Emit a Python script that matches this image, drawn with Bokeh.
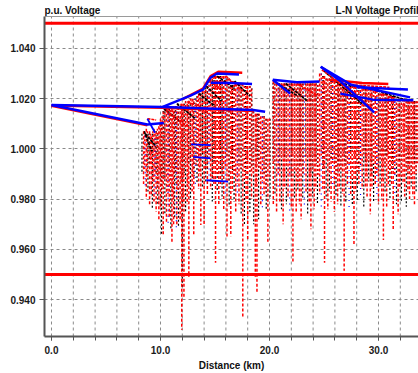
from bokeh.plotting import figure
from bokeh.models import (Range1d, SingleIntervalTicker, LinearAxis, Grid,
                          NumeralTickFormatter)
from bokeh.core.properties import value
from bokeh.embed import file_html
from bokeh.resources import INLINE

# ---------------- data (distance in km, voltage in p.u.) ----------------
limit_high = 1.05
limit_low = 0.95
grid_x_km = [0, 2, 4, 6, 8, 10, 12, 14, 16, 18, 20, 22, 24, 26, 28, 30, 32]

# primary (solid) circuits
blue_upper_x = [0.0, 10.2, 18.5, 19.6]
blue_upper_v = [1.0175, 1.0167, 1.0155, 1.0148]
red_upper_x = [0.0, 10.2, 18.5]
red_upper_v = [1.0173, 1.0164, 1.0152]
blue_lower_x = [0.0, 8.8, 10.3]
blue_lower_v = [1.0175, 1.0097, 1.0103]
red_lower_x = [0.0, 8.8]
red_lower_v = [1.0172, 1.0094]
blue_rise_x = [10.2, 11.5, 12.75, 13.9, 14.6, 15.2, 17.2]
blue_rise_v = [1.0167, 1.0190, 1.0212, 1.0236, 1.0284, 1.0300, 1.0296]
red_rise_x = [12.0, 13.9, 14.6, 15.3, 17.5]
red_rise_v = [1.0197, 1.0240, 1.0290, 1.0307, 1.0303]
blue_second_x = [14.6, 16.5, 18.4]
blue_second_v = [1.0263, 1.0262, 1.0258]
blue_mid_diag_x = [20.3, 21.9]
blue_mid_diag_v = [1.0275, 1.0220]
blue_mid_flat_x = [20.3, 22.5, 24.6]
blue_mid_flat_v = [1.0275, 1.0265, 1.0268]
blue_peak_a_x = [24.7, 26.5, 29.6]
blue_peak_a_v = [1.0327, 1.0270, 1.0145]
blue_peak_b_x = [24.7, 27.5, 32.9]
blue_peak_b_v = [1.0327, 1.0255, 1.0205]
red_top_right_x = [25.5, 28.5, 30.9]
red_top_right_v = [1.0275, 1.0262, 1.0258]
blue_right_x = [28.0, 30.5, 32.7]
blue_right_v = [1.0245, 1.0240, 1.0236]
blue_low_right_x = [26.5, 29.5, 33.2]
blue_low_right_v = [1.0220, 1.0196, 1.0194]

# secondary laterals (dotted), phase red
red_x = [8.45, 8.7, 9.0, 9.15, 9.4, 9.6, 9.85, 10.0, 10.25, 10.55,
         10.8, 11.05, 11.2, 11.5, 11.8, 11.95, 12.15, 12.45, 12.6, 12.9,
         13.05, 13.5, 13.7, 14.0, 14.3, 14.6, 14.9, 15.05, 15.35, 15.5,
         15.8, 16.1, 16.45, 16.6, 16.9, 17.2, 17.55, 17.85, 18.0, 18.35,
         18.7, 18.85, 19.2, 19.5, 19.85, 20.35, 20.65, 20.95, 21.25, 21.4,
         21.7, 22.0, 22.15, 22.45, 22.75, 22.9, 23.35, 23.65, 23.8, 24.1,
         24.25, 24.6, 24.9, 25.05, 25.35, 25.65, 25.95, 26.25, 26.4, 26.7,
         26.85, 27.15, 27.45, 27.75, 27.9, 28.2, 28.5, 28.8, 28.95, 29.25,
         29.4, 29.7, 30.0, 30.3, 30.45, 30.75, 30.9, 31.2, 31.35, 31.8,
         31.95, 32.25, 32.4, 32.7, 32.85, 33.15, 33.3]
red_top = [1.007, 1.008, 1.007, 1.005, 1.008, 1.007, 1.009, 1.012, 1.015, 1.016,
           1.016, 1.016, 1.017, 1.017, 1.017, 1.018, 1.018, 1.018, 1.019, 1.020,
           1.019, 1.022, 1.022, 1.025, 1.027, 1.028, 1.029, 1.029, 1.029, 1.029,
           1.029, 1.028, 1.027, 1.027, 1.026, 1.026, 1.026, 1.025, 1.025, 1.024,
           1.014, 1.014, 1.013, 1.013, 1.012, 1.027, 1.026, 1.026, 1.026, 1.026,
           1.026, 1.026, 1.026, 1.026, 1.026, 1.026, 1.026, 1.026, 1.026, 1.026,
           1.026, 1.030, 1.029, 1.029, 1.028, 1.027, 1.027, 1.026, 1.026, 1.026,
           1.026, 1.025, 1.025, 1.025, 1.025, 1.025, 1.024, 1.024, 1.024, 1.024,
           1.024, 1.023, 1.022, 1.022, 1.022, 1.022, 1.021, 1.021, 1.021, 1.020,
           1.020, 1.020, 1.020, 1.019, 1.019, 1.019, 1.019]
red_bot = [0.986, 0.980, 0.978, 0.981, 0.979, 0.975, 0.972, 0.976, 0.966, 0.971,
           0.973, 0.9625, 0.970, 0.970, 0.972, 0.928, 0.941, 0.978, 0.949, 0.983,
           0.966, 0.984, 0.9697, 0.970, 0.982, 0.984, 0.986, 0.9547, 0.978, 0.985,
           0.976, 0.965, 0.9652, 0.983, 0.975, 0.978, 0.933, 0.979, 0.9637, 0.980,
           0.9489, 0.9425, 0.978, 0.981, 0.963, 0.978, 0.975, 0.979, 0.970, 0.984,
           0.981, 0.977, 0.9546, 0.975, 0.978, 0.972, 0.983, 0.979, 0.968, 0.976,
           0.984, 0.982, 0.984, 0.9547, 0.976, 0.979, 0.975, 0.978, 0.984, 0.982,
           0.9515, 0.985, 0.982, 0.9617, 0.983, 0.986, 0.984, 0.985, 0.981, 0.974,
           0.984, 0.986, 0.978, 0.980, 0.9637, 0.977, 0.985, 0.986, 0.968, 0.974,
           0.984, 0.986, 0.981, 0.983, 0.980, 0.981, 0.978]

# short red service drops (upper dense band)
red_short_x = [8.55, 8.8, 9.08, 9.3, 9.5, 9.72, 9.95, 10.15, 10.4, 10.68,
               10.92, 11.12, 11.35, 11.6, 11.88, 12.07, 12.3, 12.52, 12.75, 12.98,
               13.25, 13.42, 13.6, 13.85, 14.15, 14.45, 14.75, 15.0, 15.2, 15.43,
               15.65, 15.95, 16.25, 16.53, 16.75, 17.05, 17.35, 17.7, 17.95, 18.2,
               18.5, 18.78, 19.05, 19.35, 19.65, 20.0, 20.45, 20.8, 21.1, 21.33,
               21.55, 21.85, 22.08, 22.3, 22.6, 22.83, 23.1, 23.5, 23.72, 23.95,
               24.18, 24.45, 24.75, 24.97, 25.2, 25.5, 25.8, 26.1, 26.32, 26.55,
               26.78, 27.0, 27.3, 27.6, 27.82, 28.05, 28.35, 28.65, 28.88, 29.1,
               29.33, 29.55, 29.85, 30.15, 30.38, 30.6, 30.83, 31.05, 31.28, 31.5,
               31.65, 32.1, 32.33, 32.55, 32.78, 33.0, 33.22, 33.45, 33.6]
red_short_top = [1.007, 1.007, 1.006, 1.007, 1.006, 1.008, 1.010, 1.013, 1.016, 1.016,
                 1.017, 1.017, 1.017, 1.018, 1.018, 1.018, 1.019, 1.019, 1.020, 1.020,
                 1.020, 1.021, 1.022, 1.023, 1.025, 1.027, 1.028, 1.029, 1.029, 1.029,
                 1.029, 1.029, 1.028, 1.027, 1.027, 1.026, 1.026, 1.025, 1.025, 1.025,
                 1.015, 1.014, 1.014, 1.013, 1.012, 1.012, 1.026, 1.026, 1.026, 1.026,
                 1.026, 1.026, 1.026, 1.026, 1.026, 1.026, 1.026, 1.026, 1.026, 1.026,
                 1.026, 1.027, 1.030, 1.029, 1.028, 1.028, 1.027, 1.027, 1.026, 1.026,
                 1.026, 1.026, 1.025, 1.025, 1.025, 1.025, 1.025, 1.024, 1.024, 1.024,
                 1.024, 1.023, 1.023, 1.022, 1.022, 1.022, 1.022, 1.021, 1.021, 1.021,
                 1.020, 1.020, 1.020, 1.019, 1.019, 1.019, 1.019, 1.019, 1.019]
red_short_bot = [0.992, 0.989, 0.994, 0.987, 0.991, 0.985, 0.990, 0.984, 0.988, 0.982,
                 0.986, 0.980, 0.990, 0.983, 0.987, 0.979, 0.992, 0.985, 0.995, 0.989,
                 0.993, 0.996, 0.990, 0.998, 0.992, 0.995, 0.988, 0.994, 0.990, 0.996,
                 0.989, 0.993, 0.987, 0.995, 0.990, 0.986, 0.992, 0.988, 0.994, 0.990,
                 0.990, 0.985, 0.992, 0.987, 0.983, 0.989, 0.994, 0.990, 0.996, 0.988,
                 0.993, 0.989, 0.997, 0.991, 0.986, 0.994, 0.990, 0.996, 0.988, 0.992,
                 0.995, 0.989, 0.997, 0.992, 0.996, 0.990, 0.994, 0.988, 0.995, 0.991,
                 0.997, 0.990, 0.994, 0.988, 0.996, 0.991, 0.993, 0.998, 0.990, 0.995,
                 0.989, 0.994, 0.990, 0.996, 0.988, 0.993, 0.997, 0.991, 0.995, 0.990,
                 0.994, 0.989, 0.996, 0.991, 0.993, 0.988, 0.995, 0.990, 0.994]

# secondary laterals, phase black
black_x = [8.3, 8.85, 9.25, 9.75, 10.1, 10.4, 10.95, 11.3, 11.65, 12.0,
           12.3, 12.75, 13.35, 13.85, 14.15, 14.75, 15.2, 15.65, 16.3, 16.75,
           17.4, 17.7, 18.2, 18.55, 19.0, 19.7, 20.05, 20.5, 21.1, 21.55,
           22.3, 22.6, 23.05, 23.5, 23.95, 24.4, 25.2, 25.5, 26.1, 26.55,
           27.0, 27.6, 28.05, 28.65, 29.1, 29.55, 30.15, 30.6, 31.05, 31.65,
           32.1, 32.55, 33.0, 33.45]
black_top = [1.006, 1.006, 1.006, 1.006, 1.010, 1.015, 1.017, 1.015, 1.018, 1.016,
             1.019, 1.018, 1.021, 1.024, 1.026, 1.029, 1.029, 1.028, 1.028, 1.027,
             1.026, 1.025, 1.025, 1.015, 1.014, 1.012, 1.012, 1.026, 1.026, 1.026,
             1.026, 1.026, 1.026, 1.026, 1.026, 1.027, 1.028, 1.028, 1.027, 1.026,
             1.026, 1.025, 1.025, 1.024, 1.024, 1.023, 1.022, 1.022, 1.021, 1.020,
             1.020, 1.019, 1.019, 1.019]
black_bot = [0.990, 0.983, 0.976, 0.978, 0.9655, 0.974, 0.968, 0.972, 0.969, 0.945,
             0.975, 0.980, 0.986, 0.985, 0.987, 0.979, 0.983, 0.980, 0.977, 0.979,
             0.974, 0.970, 0.975, 0.970, 0.972, 0.976, 0.980, 0.982, 0.976, 0.978,
             0.980, 0.983, 0.980, 0.974, 0.981, 0.978, 0.980, 0.983, 0.981, 0.977,
             0.979, 0.978, 0.979, 0.977, 0.987, 0.979, 0.985, 0.983, 0.980, 0.978,
             0.979, 0.977, 0.985, 0.983]
black_short_x = [8.95, 9.6, 10.25, 10.8, 11.4, 12.2, 12.6, 13.1, 13.7, 14.3,
                 14.9, 15.5, 16.1, 16.6, 17.2, 17.8, 18.4, 18.9, 19.5, 20.3,
                 20.9, 21.4, 22.0, 22.8, 23.3, 23.8, 24.3, 24.9, 25.65, 26.3,
                 26.9, 27.45, 28.2, 28.8, 29.4, 30.0, 30.7, 31.3, 31.9, 32.7, 33.3]
black_short_top = [1.006, 1.007, 1.015, 1.016, 1.017, 1.018, 1.019, 1.020, 1.022, 1.026,
                   1.029, 1.029, 1.028, 1.027, 1.026, 1.025, 1.024, 1.014, 1.013, 1.026,
                   1.026, 1.026, 1.026, 1.026, 1.026, 1.026, 1.026, 1.029, 1.027, 1.026,
                   1.026, 1.025, 1.025, 1.024, 1.024, 1.022, 1.022, 1.021, 1.020, 1.019, 1.019]
black_short_bot = [0.994, 0.990, 0.988, 0.992, 0.986, 0.990, 0.994, 0.988, 0.996, 0.992,
                   0.995, 0.990, 0.997, 0.991, 0.994, 0.989, 0.993, 0.995, 0.990, 0.994,
                   0.991, 0.996, 0.989, 0.993, 0.997, 0.990, 0.994, 0.992, 0.996, 0.990,
                   0.994, 0.998, 0.991, 0.995, 0.990, 0.993, 0.997, 0.992, 0.995, 0.990, 0.994]

# secondary laterals, phase blue
blue_x = [8.6, 9.5, 10.7, 11.45, 13.2, 14.45, 15.95, 17.05, 19.35, 20.8,
          21.85, 23.2, 24.75, 25.8, 27.3, 28.35, 29.85, 31.5]
blue_top = [1.005, 1.004, 1.014, 1.017, 1.020, 1.028, 1.028, 1.026, 1.013, 1.026,
            1.026, 1.026, 1.030, 1.027, 1.025, 1.025, 1.023, 1.021]
blue_bot = [0.984, 0.982, 0.969, 0.967, 0.985, 0.988, 0.982, 0.981, 0.975, 0.985,
            0.974, 0.976, 0.977, 0.985, 0.976, 0.980, 0.982, 0.982]

# sloping branch segments (start km, start pu, end km, end pu)
fan_black_x0 = [8.5, 8.6, 10.3, 11.5, 13.5, 14.2, 15.2, 16.8, 20.4, 21.5, 25.0, 26.5, 28.5]
fan_black_v0 = [1.007, 1.006, 1.016, 1.018, 1.022, 1.025, 1.029, 1.027, 1.027, 1.026, 1.031, 1.026, 1.025]
fan_black_x1 = [9.2, 9.6, 11.8, 13.2, 15.0, 15.6, 16.8, 18.2, 22.6, 23.5, 28.5, 30.0, 32.5]
fan_black_v1 = [0.999, 1.001, 1.011, 1.012, 1.017, 1.019, 1.024, 1.021, 1.021, 1.019, 1.018, 1.0235, 1.0195]
fan_red_x0 = [8.8, 10.5, 12.5, 14.5, 16.0, 22.5, 24.8, 27.5]
fan_red_v0 = [1.012, 1.015, 1.019, 1.027, 1.029, 1.026, 1.0315, 1.0255]
fan_red_x1 = [9.6, 12.5, 14.5, 16.0, 17.5, 24.5, 29.5, 31.0]
fan_red_v1 = [1.0115, 1.009, 1.014, 1.022, 1.023, 1.021, 1.016, 1.0245]
fan_blue_x0 = [8.8, 12.8, 13.0, 14.2]
fan_blue_v0 = [1.012, 1.0018, 0.9968, 0.9875]
fan_blue_x1 = [9.5, 14.6, 14.6, 16.2]
fan_blue_v1 = [1.0064, 1.0015, 0.9962, 0.987]

for a, b, c in [(red_x, red_top, red_bot), (red_short_x, red_short_top, red_short_bot),
                (black_x, black_top, black_bot),
                (black_short_x, black_short_top, black_short_bot),
                (blue_x, blue_top, blue_bot)]:
    assert len(a) == len(b) == len(c), (len(a), len(b), len(c))

RED = "#ff0000"
BLUE = "#0000ff"
BLACK = "#000000"
FONT = "Liberation Sans"

X0, X1 = -0.642, 33.67          # plotted distance window
V_BOT, V_TOP = 0.9253, 1.0527   # plot box (voltage)
V_CANVAS_TOP = 1.05907          # frame extends up to the title strip

p = figure(width=418, height=373, output_backend="svg", toolbar_location=None,
           x_range=Range1d(X0, X1), y_range=Range1d(V_BOT, V_CANVAS_TOP),
           x_axis_type=None, y_axis_type=None,
           min_border_left=44, min_border_right=0, min_border_top=0, min_border_bottom=37)
p.outline_line_color = None
p.background_fill_color = "white"
p.border_fill_color = "white"

# grid: horizontal via Grid, vertical drawn inside the plot box only
yg = Grid(dimension=1, ticker=SingleIntervalTicker(interval=0.02))
yg.grid_line_color = "#8a8a8a"
yg.grid_line_dash = "3 3"
yg.grid_line_width = 1
p.add_layout(yg)
p.segment(x0=grid_x_km, y0=[V_BOT] * len(grid_x_km), x1=grid_x_km, y1=[V_TOP] * len(grid_x_km),
          line_color="#8a8a8a", line_dash="3 3", line_width=1)

# axes
xax = LinearAxis(ticker=SingleIntervalTicker(interval=10, num_minor_ticks=5),
                 formatter=NumeralTickFormatter(format="0.0"))
yax = LinearAxis(ticker=SingleIntervalTicker(interval=0.02, num_minor_ticks=0),
                 formatter=NumeralTickFormatter(format="0.000"), bounds=(V_BOT, V_TOP))
for ax in (xax, yax):
    ax.axis_line_color = "#555555"
    ax.axis_line_width = 2
    ax.major_tick_line_color = "#555555"
    ax.minor_tick_line_color = "#555555"
    ax.major_tick_in = 0
    ax.minor_tick_in = 0
    ax.major_label_text_font = FONT
    ax.major_label_text_font_style = "bold"
    ax.major_label_text_font_size = "10px"
    ax.major_label_text_color = "#1a1a1a"
xax.major_tick_out = 4
xax.minor_tick_out = 4
xax.major_label_standoff = 5
xax.axis_label = "Distance (km)"
xax.axis_label_text_font = FONT
xax.axis_label_text_font_style = "bold"
xax.axis_label_text_font_size = "10px"
xax.axis_label_text_color = "#111111"
xax.axis_label_standoff = 3
yax.major_tick_out = 5
yax.minor_tick_out = 0
yax.major_label_standoff = 4
p.add_layout(xax, "below")
p.add_layout(yax, "left")

# top border of the plot box
p.line([X0, X1], [V_TOP, V_TOP], line_color="#9a9a9a", line_width=1)

# secondary laterals
p.segment(x0=black_x, y0=black_top, x1=black_x, y1=black_bot,
          line_color=BLACK, line_width=1.2, line_dash="2 2")
p.segment(x0=red_x, y0=red_top, x1=red_x, y1=red_bot,
          line_color=RED, line_width=1.5, line_dash="3 2")
p.segment(x0=red_short_x, y0=red_short_top, x1=red_short_x, y1=red_short_bot,
          line_color=RED, line_width=1.5, line_dash="2 2")
p.segment(x0=black_short_x, y0=black_short_top, x1=black_short_x, y1=black_short_bot,
          line_color=BLACK, line_width=1.2, line_dash="1 3")
p.segment(x0=blue_x, y0=blue_top, x1=blue_x, y1=blue_bot,
          line_color=BLUE, line_width=1.2, line_dash="1 5")

# sloping branches
p.segment(x0=fan_black_x0, y0=fan_black_v0, x1=fan_black_x1, y1=fan_black_v1,
          line_color=BLACK, line_width=1.6, line_dash="3 1")
p.segment(x0=fan_red_x0, y0=fan_red_v0, x1=fan_red_x1, y1=fan_red_v1,
          line_color=RED, line_width=1.6, line_dash="3 1")
p.segment(x0=fan_blue_x0, y0=fan_blue_v0, x1=fan_blue_x1, y1=fan_blue_v1,
          line_color=BLUE, line_width=1.8)

# primary circuits
for xs, vs in [(red_upper_x, red_upper_v), (red_lower_x, red_lower_v),
               (red_rise_x, red_rise_v), (red_top_right_x, red_top_right_v)]:
    p.line(xs, vs, line_color=RED, line_width=2.5)
for xs, vs in [(blue_upper_x, blue_upper_v), (blue_lower_x, blue_lower_v),
               (blue_rise_x, blue_rise_v), (blue_second_x, blue_second_v),
               (blue_mid_diag_x, blue_mid_diag_v), (blue_mid_flat_x, blue_mid_flat_v),
               (blue_peak_a_x, blue_peak_a_v), (blue_peak_b_x, blue_peak_b_v),
               (blue_right_x, blue_right_v), (blue_low_right_x, blue_low_right_v)]:
    p.line(xs, vs, line_color=BLUE, line_width=2.5)

# limit lines
p.line([X0, X1], [limit_high, limit_high], line_color=RED, line_width=3)
p.line([X0, X1], [limit_low, limit_low], line_color=RED, line_width=3)

# header texts (inside the top strip of the frame)
p.text(x=[X0], y=[1.0551], text=["p.u. Voltage"], text_font=value(FONT),
       text_font_style="bold", text_font_size="10px", text_color="#111111",
       text_align="left", text_baseline="middle")
p.text(x=[26.06], y=[1.0551], text=["L-N Voltage Profile"], text_font=value(FONT),
       text_font_style="bold", text_font_size="10px", text_color="#111111",
       text_align="left", text_baseline="middle")

open("out.html", "w").write(file_html(p, INLINE))
